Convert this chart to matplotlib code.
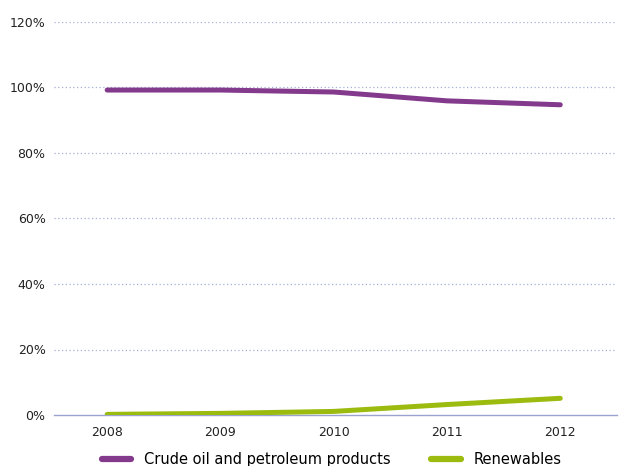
import matplotlib
matplotlib.use("Agg")
import matplotlib.pyplot as plt
from matplotlib.ticker import FuncFormatter

years = ["2008", "2009", "2010", "2011", "2012"]
crude_oil = [99.2, 99.2, 98.6, 95.9, 94.7]
renewables = [0.2, 0.5, 1.1, 3.2, 5.1]
series_names = ["Crude oil and petroleum products", "Renewables"]
yticks = [0, 20, 40, 60, 80, 100, 120]

plt.rcParams['font.family'] = ['DejaVu Sans']

fig = plt.figure(figsize=(6.2, 4.66), dpi=100)
ax = fig.add_axes([0.087, 0.1094, 0.908, 0.8436])

x = list(range(len(years)))
ax.plot(x, crude_oil, color="#833a8c", lw=3.6, solid_capstyle="round", label=series_names[0], zorder=3)
ax.plot(x, renewables, color="#9bbb0f", lw=3.6, solid_capstyle="round", label=series_names[1], zorder=3)

ax.set_xlim(-0.47, len(years) - 0.5)
ax.set_ylim(0, 120)
ax.set_xticks(x)
ax.set_xticklabels(years)
ax.set_yticks(yticks)
ax.yaxis.set_major_formatter(FuncFormatter(lambda v, p: f"{int(v)}%"))
ax.tick_params(axis="both", length=0, labelsize=9, colors="#222222")
ax.tick_params(axis="x", pad=8)
ax.tick_params(axis="y", pad=6)

for s in ["top", "right", "left"]:
    ax.spines[s].set_visible(False)
ax.spines["bottom"].set_color("#9aa3d0")
ax.spines["bottom"].set_linewidth(1.0)

for t in yticks[1:]:
    ax.axhline(t, color="#a7aed8", lw=0.9, ls=(0, (1, 2)), zorder=1)

leg = fig.legend(loc="lower center", bbox_to_anchor=(0.535, -0.03), ncol=2, frameon=False,
                 fontsize=10.5, handlelength=2.0, columnspacing=2.8, handletextpad=0.9)
for h in leg.get_lines():
    h.set_linewidth(4.5)
    h.set_solid_capstyle("round")

fig.savefig("out.png", dpi=100)
